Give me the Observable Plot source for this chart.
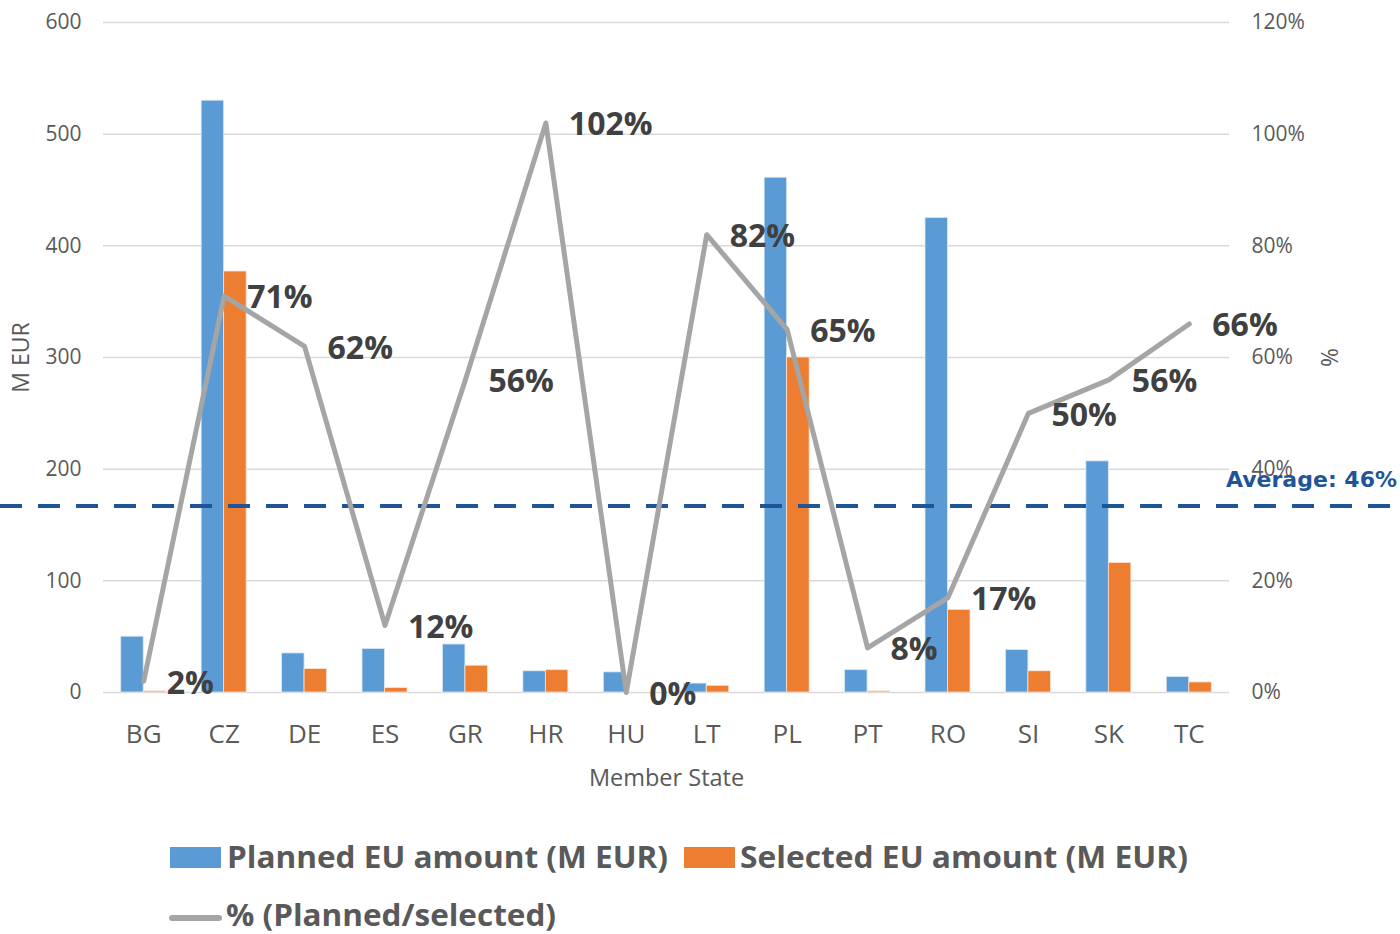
<!DOCTYPE html>
<html>
<head>
<meta charset="utf-8">
<script src="https://cdn.jsdelivr.net/npm/d3@7"></script>
<script src="https://cdn.jsdelivr.net/npm/@observablehq/plot@0.6"></script>
<style>
  html, body { margin: 0; padding: 0; background: #fff; }
  svg { display: block; }
  #chart { width: 1400px; }
</style>
</head>
<body>
<div id="chart"></div>
<script>
// ---- data ----
const states = ["BG","CZ","DE","ES","GR","HR","HU","LT","PL","PT","RO","SI","SK","TC"];
const planned = [50, 530, 35, 39, 43, 19, 18, 8, 461, 20, 425, 38, 207, 14];
const selected = [1, 377, 21, 4, 24, 20, 0, 6, 300, 1, 74, 19, 116, 9];
const pct = [2, 71, 62, 12, 56, 102, 0, 82, 65, 8, 17, 50, 56, 66];
const leftTicks = [0, 100, 200, 300, 400, 500, 600];
const avgLinePct = 33.4;          // position of the dashed line on the % axis
const avgLabel = "Average: 46%";
const xLabel = "Member State";
const yLeftLabel = "M EUR";
const yRightLabel = "%";
const legendItems = ["Planned EU amount (M EUR)", "Selected EU amount (M EUR)", "% (Planned/selected)"];

const rows = states.map((s, i) => ({state: s, planned: planned[i], selected: selected[i], pct: pct[i]}));
const pctToLeft = p => p * 5; // 120% <-> 600

const blue = "#5B9BD5", orange = "#ED7D31", grey = "#A5A5A5", navy = "#1F5596", textGrey = "#595959";

const W = 1400, H = 800, mL = 103, mR = 171, mT = 22, mB = 108;
const bw = (W - mL - mR) / states.length;
const barW = 22.5;

const chart = Plot.plot({
  width: W, height: H,
  marginLeft: mL, marginRight: mR, marginTop: mT, marginBottom: mB,
  style: {fontFamily: "'Open Sans', sans-serif", color: textGrey, background: "#fff"},
  x: {type: "band", domain: states, padding: 0, round: false},
  y: {domain: [0, 600]},
  marks: [
    Plot.gridY(leftTicks, {stroke: "#D9D9D9", strokeOpacity: 1, strokeWidth: 1.5}),
    Plot.axisY({ticks: leftTicks, tickSize: 0, tickPadding: 22, fontSize: 21, label: null}),
    Plot.axisY({anchor: "right", ticks: leftTicks, tickSize: 0, tickPadding: 22, fontSize: 21, label: null,
      tickFormat: d => (d / 5) + "%"}),
    Plot.axisX({tickSize: 0, tickPadding: 32, fontSize: 26, label: null}),
    Plot.text([xLabel], {frameAnchor: "bottom", lineAnchor: "middle", textAnchor: "middle", dy: 86, fontSize: 23.5, fill: textGrey}),
    Plot.text([yLeftLabel], {frameAnchor: "left", textAnchor: "middle", lineAnchor: "middle", dx: -82, rotate: -90, fontSize: 23, fill: textGrey}),
    Plot.text([yRightLabel], {frameAnchor: "right", textAnchor: "middle", lineAnchor: "middle", dx: 101, rotate: -90, fontSize: 23, fill: textGrey}),
    Plot.barY(rows, {x: "state", y: "planned", fill: blue, stroke: "#DCE9F6", strokeWidth: 0.8,
      insetLeft: bw / 2 - barW, insetRight: bw / 2}),
    Plot.barY(rows, {x: "state", y: "selected", fill: orange, stroke: "#FBE1D0", strokeWidth: 0.8,
      insetLeft: bw / 2, insetRight: bw / 2 - barW}),
    Plot.ruleY([pctToLeft(avgLinePct)], {stroke: navy, strokeWidth: 4, strokeDasharray: "22,16",
      insetLeft: -mL, insetRight: -mR}),
    Plot.text([avgLabel], {frameAnchor: "right", textAnchor: "middle", y: [pctToLeft(avgLinePct)], dx: 82, dy: -26,
      fontSize: 22, fontWeight: "bold", fill: navy, fontFamily: "'DejaVu Sans', sans-serif"}),
    Plot.line(rows, {x: "state", y: d => pctToLeft(d.pct), stroke: grey, strokeWidth: 5,
      strokeLinejoin: "round", strokeLinecap: "round"}),
    Plot.text(rows, {x: "state", y: d => pctToLeft(d.pct), text: d => d.pct + "%", textAnchor: "start",
      dx: 23, dy: 2, fontSize: 32, fontWeight: "bold", fill: "#404040"})
  ]
});
document.getElementById("chart").appendChild(chart);

// ---- legend (below the plot) ----
const leg = d3.select("#chart").append("svg").attr("width", W).attr("height", 134)
  .style("font-family", "'Open Sans', sans-serif");
const lt = (x, y, str, len) => leg.append("text").attr("x", x).attr("y", y).text(str)
  .attr("font-size", 30).attr("font-weight", "bold").attr("fill", textGrey)
  .attr("textLength", len).attr("lengthAdjust", "spacingAndGlyphs");
leg.append("rect").attr("x", 170).attr("y", 47).attr("width", 51).attr("height", 21).attr("fill", blue);
lt(227, 68, legendItems[0], 441);
leg.append("rect").attr("x", 684).attr("y", 47).attr("width", 51).attr("height", 21).attr("fill", orange);
lt(740, 68, legendItems[1], 448);
leg.append("line").attr("x1", 172).attr("x2", 219).attr("y1", 118).attr("y2", 118)
  .attr("stroke", grey).attr("stroke-width", 6).attr("stroke-linecap", "round");
lt(226, 126, legendItems[2], 330);
</script>
</body>
</html>
